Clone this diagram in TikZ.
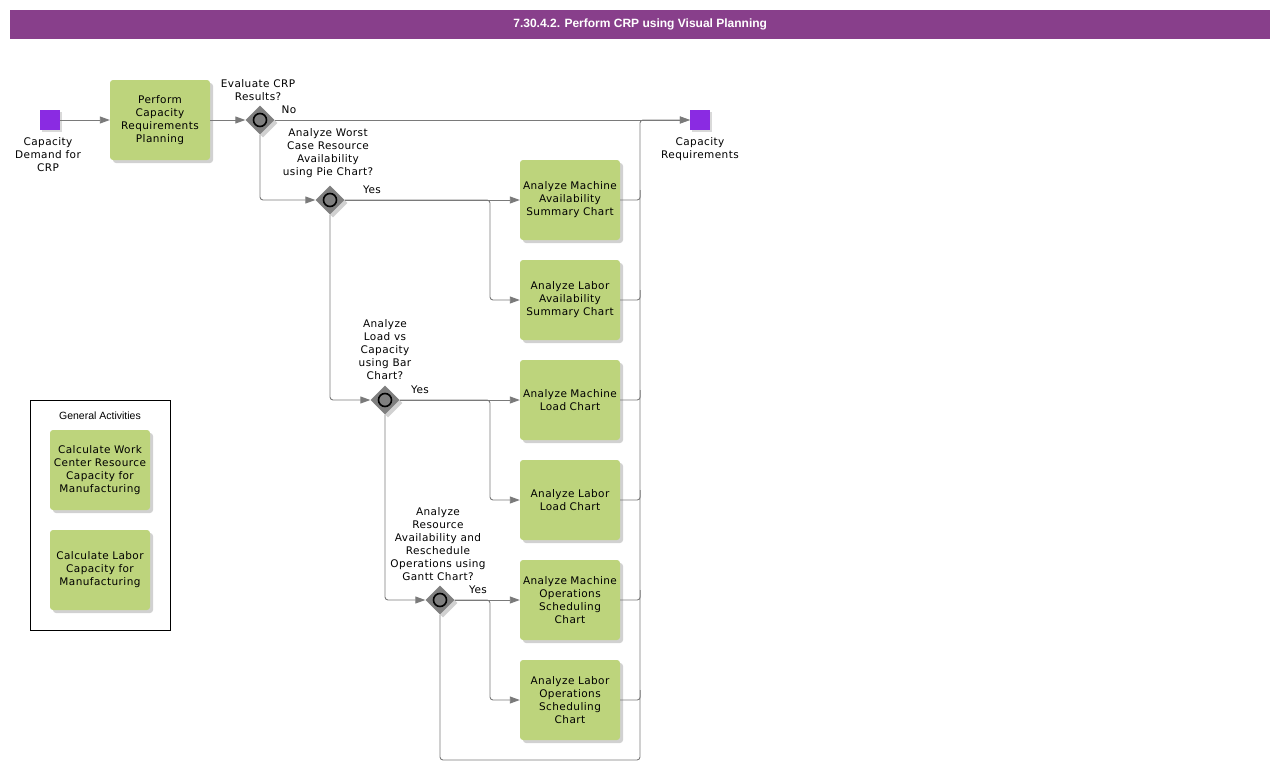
\documentclass[tikz,border=0pt]{standalone}
\usepackage{fontspec}
\setmainfont{DejaVu Sans}[LetterSpace=4]
\newfontfamily\arialfont{Liberation Sans}
\usetikzlibrary{shapes.geometric,shadows,arrows.meta,calc}
\definecolor{barpurple}{HTML}{883F8B}
\definecolor{evpurple}{HTML}{8A2BE2}
\definecolor{taskgreen}{HTML}{BDD47C}
\definecolor{linegray}{HTML}{7A7A7A}
\definecolor{gwgray}{HTML}{7F7F7F}
\tikzset{
  txt/.style={font=\fontsize{10.5}{13}\selectfont, align=center, inner sep=0pt},
  task/.style={txt, rectangle, rounded corners=3pt, fill=taskgreen, minimum width=100pt, minimum height=80pt, text width=100pt,
    drop shadow={shadow xshift=3pt, shadow yshift=-3pt, fill=black, opacity=0.18}},
  evt/.style={rectangle, fill=evpurple, minimum size=20pt, inner sep=0pt,
    drop shadow={shadow xshift=2pt, shadow yshift=-2pt, fill=black, opacity=0.15}},
  gw/.style={diamond, fill=gwgray, minimum width=29pt, minimum height=29pt, inner sep=0pt,
    drop shadow={shadow xshift=3pt, shadow yshift=-3pt, fill=black, opacity=0.18}},
  ring/.style={circle, draw=black, line width=1.6pt, fill=gwgray, minimum size=13pt, inner sep=0pt},
  line/.style={draw=linegray, line width=0.9pt, rounded corners=3pt},
  flow/.style={line, -{Triangle[length=10pt, width=7pt, fill=linegray]}},
  lbl/.style={txt}
}
\begin{document}
\begin{tikzpicture}[x=1pt, y=-1pt]
\useasboundingbox (0,0) rectangle (1280,779);
% title bar
\node[fill=barpurple, minimum width=1260pt, minimum height=29pt, inner sep=0pt, anchor=north west,
  text=white, font=\arialfont\bfseries\fontsize{12}{14}\selectfont] (title) at (10,10) {7.30.4.2. Perform CRP using Visual Planning};

% events
\node[evt] (start) at (50,120) {};
\node[lbl, anchor=north] (startlbl) at (48,137) {Capacity\\Demand for\\CRP};
\node[evt] (endev) at (700,120) {};
\node[lbl, anchor=north] (endlbl) at (700,137) {Capacity\\Requirements};

% tasks
\node[task] (crp) at (160,120) {Perform\\Capacity\\Requirements\\Planning};
\node[task] (mas) at (570,200) {Analyze Machine\\Availability\\Summary Chart};
\node[task] (las) at (570,300) {Analyze Labor\\Availability\\Summary Chart};
\node[task] (mlc) at (570,400) {Analyze Machine\\Load Chart};
\node[task] (llc) at (570,500) {Analyze Labor\\Load Chart};
\node[task] (mos) at (570,600) {Analyze Machine\\Operations\\Scheduling\\Chart};
\node[task] (los) at (570,700) {Analyze Labor\\Operations\\Scheduling\\Chart};

% gateways
\node[gw] (g1) at (260,120) {};
\node[ring] (r1) at (260,120) {};
\node[gw] (g2) at (330,200) {};
\node[ring] (r2) at (330,200) {};
\node[gw] (g3) at (385,400) {};
\node[ring] (r3) at (385,400) {};
\node[gw] (g4) at (440,600) {};
\node[ring] (r4) at (440,600) {};

% gateway labels
\node[lbl, anchor=south] (g1lbl) at (258,101) {Evaluate CRP\\Results?};
\node[lbl, anchor=south] (g2lbl) at (328,178) {Analyze Worst\\Case Resource\\Availability\\using Pie Chart?};
\node[lbl, anchor=south] (g3lbl) at (385,380) {Analyze\\Load vs\\Capacity\\using Bar\\Chart?};
\node[lbl, anchor=south] (g4lbl) at (438,581) {Analyze\\Resource\\Availability and\\Reschedule\\Operations using\\Gantt Chart?};
\node[lbl] (nolbl) at (289,110) {No};
\node[lbl] (yes2) at (372,190) {Yes};
\node[lbl] (yes3) at (420,390) {Yes};
\node[lbl] (yes4) at (478,590) {Yes};

% coordinates
\coordinate (b2) at (490,250);
\coordinate (b3) at (490,450);
\coordinate (b4) at (490,650);
\coordinate (loop) at (640,760);

% connectors
\draw[flow] (start) -- (crp);
\draw[flow] (crp) -- (g1);
\draw[flow] (g1.east) -- (endev.west);
\draw[flow] (g1.south) |- (g2.west);
\draw[flow] (g2.east) -- (mas.west);
\draw[flow] (g2.east) -| (b2) |- (las.west);
\draw[flow] (g2.south) |- (g3.west);
\draw[flow] (g3.east) -- (mlc.west);
\draw[flow] (g3.east) -| (b3) |- (llc.west);
\draw[flow] (g3.south) |- (g4.west);
\draw[flow] (g4.east) -- (mos.west);
\draw[flow] (g4.east) -| (b4) |- (los.west);
\draw[flow] (g4.south) |- (loop) |- (endev.west);
\draw[line] (mas.east) -| ($(mas.east)+(20,-10)$);
\draw[line] (las.east) -| ($(las.east)+(20,-10)$);
\draw[line] (mlc.east) -| ($(mlc.east)+(20,-10)$);
\draw[line] (llc.east) -| ($(llc.east)+(20,-10)$);
\draw[line] (mos.east) -| ($(mos.east)+(20,-10)$);
\draw[line] (los.east) -| ($(los.east)+(20,-10)$);

% legend
\node[draw=black, line width=0.8pt, minimum width=140pt, minimum height=230pt, anchor=north west, inner sep=0pt] (legend) at (30,400) {};
\node[font=\arialfont\fontsize{10.5}{12}\selectfont, inner sep=0pt] (legtitle) at (100,416) {General Activities};
\node[task] (lt1) at (100,470) {Calculate Work\\Center Resource\\Capacity for\\Manufacturing};
\node[task] (lt2) at (100,570) {Calculate Labor\\Capacity for\\Manufacturing};
\end{tikzpicture}
\end{document}
